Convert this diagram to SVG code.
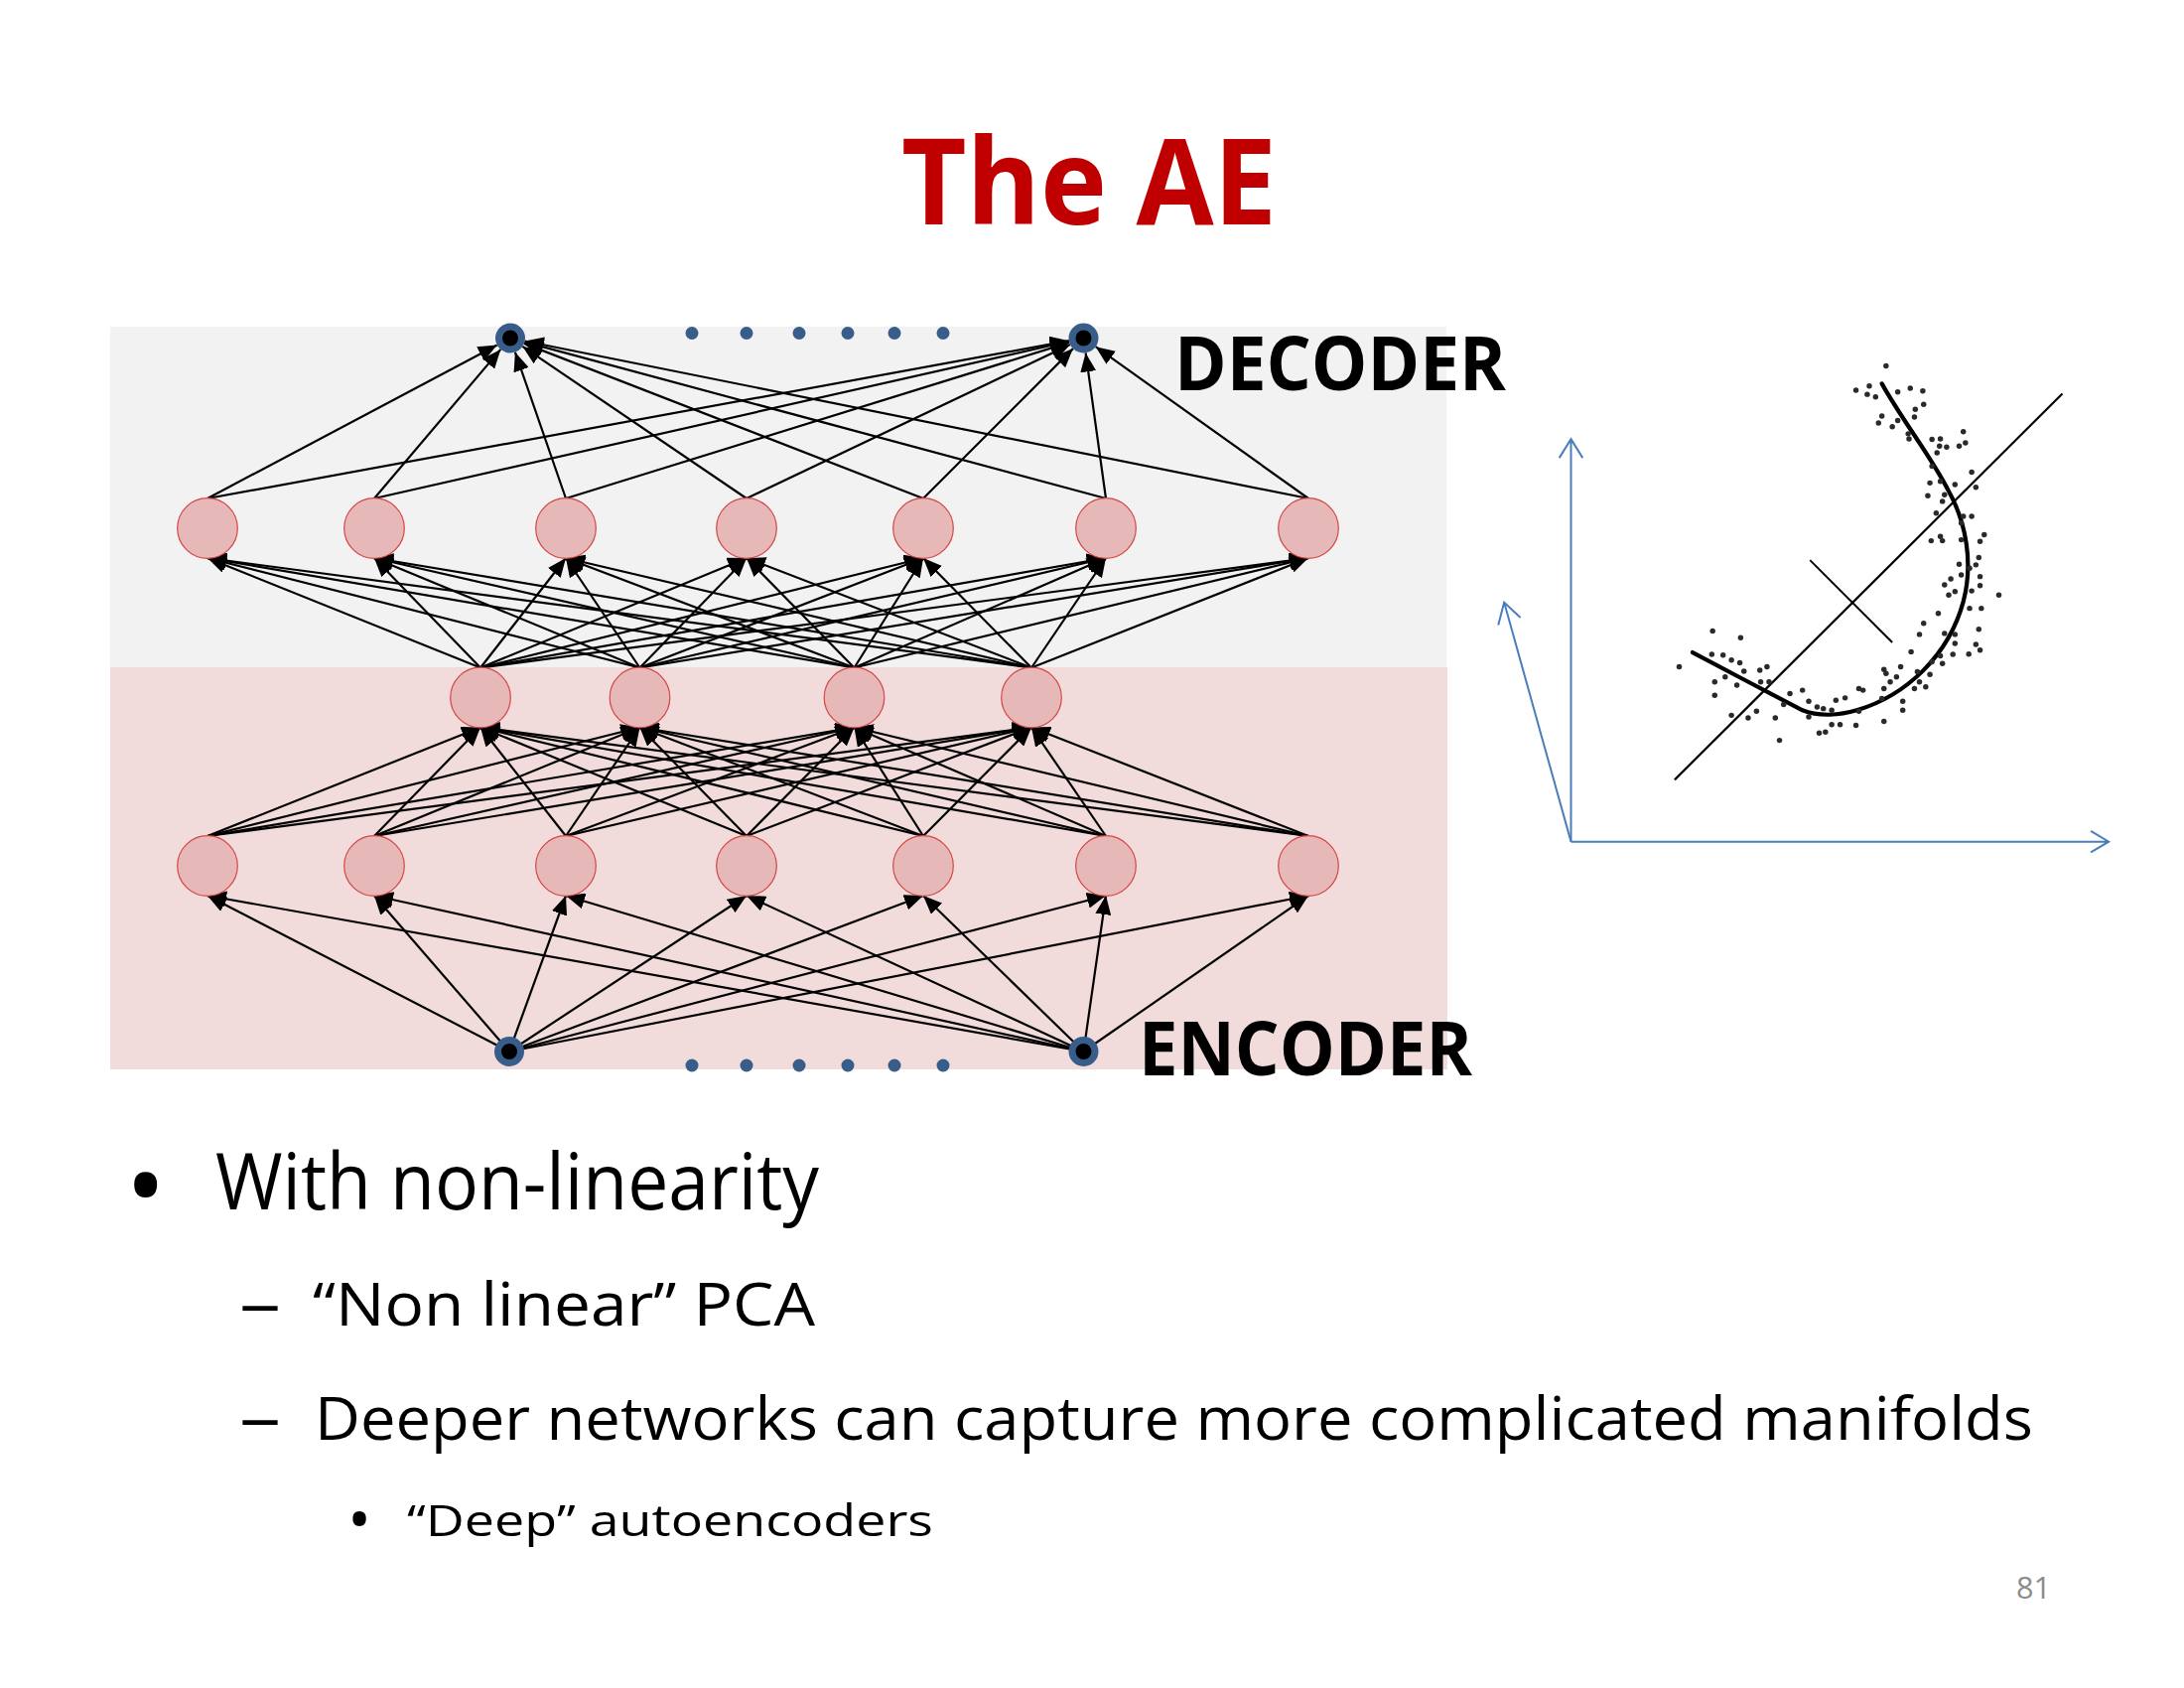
<svg xmlns="http://www.w3.org/2000/svg" width="2200" height="1700" viewBox="0 0 2200 1700">
<defs>
<style>
.band-d{fill:#F2F2F2}
.band-e{fill:#F2DCDB}
.h{fill:#E6B8B7;stroke:#D64545;stroke-width:1.2}
.io{fill:#000;stroke:#385D8A;stroke-width:7}
.bd{fill:#385D8A}
.c{stroke:#000;stroke-width:2.2;fill:none;marker-end:url(#ah)}
.ax{stroke:#4A7EBB;stroke-width:2;fill:none}
.pl{stroke:#000;fill:none}
.dot{fill:#2a2a2a}
.t{font-family:"Open Sans","Noto Sans","Liberation Sans",sans-serif}
.b{font-weight:bold}
</style>
<marker id="ah" markerUnits="userSpaceOnUse" markerWidth="20" markerHeight="16" refX="19" refY="8" orient="auto">
<path d="M0,0 L19,8 L0,16 z" fill="#000"/>
</marker>
</defs>
<rect width="2200" height="1700" fill="#fff"/>
<text class="t b" x="908" y="226" font-size="120" fill="#C00000" textLength="378" lengthAdjust="spacingAndGlyphs">The AE</text>
<rect class="band-d" x="111" y="329" width="1346" height="343"/>
<rect class="band-e" x="111" y="672" width="1347" height="405"/>
<g id="connectors">
<line class="c" x1="513" y1="1059" x2="209" y2="902"/>
<line class="c" x1="513" y1="1059" x2="377" y2="902"/>
<line class="c" x1="513" y1="1059" x2="570" y2="902"/>
<line class="c" x1="513" y1="1059" x2="752" y2="902"/>
<line class="c" x1="513" y1="1059" x2="930" y2="902"/>
<line class="c" x1="513" y1="1059" x2="1114" y2="902"/>
<line class="c" x1="513" y1="1059" x2="1318" y2="902"/>
<line class="c" x1="1091.5" y1="1059" x2="209" y2="902"/>
<line class="c" x1="1091.5" y1="1059" x2="377" y2="902"/>
<line class="c" x1="1091.5" y1="1059" x2="570" y2="902"/>
<line class="c" x1="1091.5" y1="1059" x2="752" y2="902"/>
<line class="c" x1="1091.5" y1="1059" x2="930" y2="902"/>
<line class="c" x1="1091.5" y1="1059" x2="1114" y2="902"/>
<line class="c" x1="1091.5" y1="1059" x2="1318" y2="902"/>
<line class="c" x1="209" y1="842" x2="484" y2="732.5"/>
<line class="c" x1="209" y1="842" x2="644.5" y2="732.5"/>
<line class="c" x1="209" y1="842" x2="860.5" y2="732.5"/>
<line class="c" x1="209" y1="842" x2="1039" y2="732.5"/>
<line class="c" x1="377" y1="842" x2="484" y2="732.5"/>
<line class="c" x1="377" y1="842" x2="644.5" y2="732.5"/>
<line class="c" x1="377" y1="842" x2="860.5" y2="732.5"/>
<line class="c" x1="377" y1="842" x2="1039" y2="732.5"/>
<line class="c" x1="570" y1="842" x2="484" y2="732.5"/>
<line class="c" x1="570" y1="842" x2="644.5" y2="732.5"/>
<line class="c" x1="570" y1="842" x2="860.5" y2="732.5"/>
<line class="c" x1="570" y1="842" x2="1039" y2="732.5"/>
<line class="c" x1="752" y1="842" x2="484" y2="732.5"/>
<line class="c" x1="752" y1="842" x2="644.5" y2="732.5"/>
<line class="c" x1="752" y1="842" x2="860.5" y2="732.5"/>
<line class="c" x1="752" y1="842" x2="1039" y2="732.5"/>
<line class="c" x1="930" y1="842" x2="484" y2="732.5"/>
<line class="c" x1="930" y1="842" x2="644.5" y2="732.5"/>
<line class="c" x1="930" y1="842" x2="860.5" y2="732.5"/>
<line class="c" x1="930" y1="842" x2="1039" y2="732.5"/>
<line class="c" x1="1114" y1="842" x2="484" y2="732.5"/>
<line class="c" x1="1114" y1="842" x2="644.5" y2="732.5"/>
<line class="c" x1="1114" y1="842" x2="860.5" y2="732.5"/>
<line class="c" x1="1114" y1="842" x2="1039" y2="732.5"/>
<line class="c" x1="1318" y1="842" x2="484" y2="732.5"/>
<line class="c" x1="1318" y1="842" x2="644.5" y2="732.5"/>
<line class="c" x1="1318" y1="842" x2="860.5" y2="732.5"/>
<line class="c" x1="1318" y1="842" x2="1039" y2="732.5"/>
<line class="c" x1="484" y1="672.5" x2="209" y2="562"/>
<line class="c" x1="484" y1="672.5" x2="377" y2="562"/>
<line class="c" x1="484" y1="672.5" x2="570" y2="562"/>
<line class="c" x1="484" y1="672.5" x2="752" y2="562"/>
<line class="c" x1="484" y1="672.5" x2="930" y2="562"/>
<line class="c" x1="484" y1="672.5" x2="1114" y2="562"/>
<line class="c" x1="484" y1="672.5" x2="1318" y2="562"/>
<line class="c" x1="644.5" y1="672.5" x2="209" y2="562"/>
<line class="c" x1="644.5" y1="672.5" x2="377" y2="562"/>
<line class="c" x1="644.5" y1="672.5" x2="570" y2="562"/>
<line class="c" x1="644.5" y1="672.5" x2="752" y2="562"/>
<line class="c" x1="644.5" y1="672.5" x2="930" y2="562"/>
<line class="c" x1="644.5" y1="672.5" x2="1114" y2="562"/>
<line class="c" x1="644.5" y1="672.5" x2="1318" y2="562"/>
<line class="c" x1="860.5" y1="672.5" x2="209" y2="562"/>
<line class="c" x1="860.5" y1="672.5" x2="377" y2="562"/>
<line class="c" x1="860.5" y1="672.5" x2="570" y2="562"/>
<line class="c" x1="860.5" y1="672.5" x2="752" y2="562"/>
<line class="c" x1="860.5" y1="672.5" x2="930" y2="562"/>
<line class="c" x1="860.5" y1="672.5" x2="1114" y2="562"/>
<line class="c" x1="860.5" y1="672.5" x2="1318" y2="562"/>
<line class="c" x1="1039" y1="672.5" x2="209" y2="562"/>
<line class="c" x1="1039" y1="672.5" x2="377" y2="562"/>
<line class="c" x1="1039" y1="672.5" x2="570" y2="562"/>
<line class="c" x1="1039" y1="672.5" x2="752" y2="562"/>
<line class="c" x1="1039" y1="672.5" x2="930" y2="562"/>
<line class="c" x1="1039" y1="672.5" x2="1114" y2="562"/>
<line class="c" x1="1039" y1="672.5" x2="1318" y2="562"/>
<line class="c" x1="209" y1="502" x2="500.7" y2="347.5"/>
<line class="c" x1="377" y1="502" x2="504.3" y2="351.9"/>
<line class="c" x1="570" y1="502" x2="518.9" y2="354.7"/>
<line class="c" x1="752" y1="502" x2="526.4" y2="348.9"/>
<line class="c" x1="930" y1="502" x2="528" y2="345.9"/>
<line class="c" x1="1114" y1="502" x2="528.5" y2="344.4"/>
<line class="c" x1="1318" y1="502" x2="528.7" y2="343.5"/>
<line class="c" x1="209" y1="502" x2="1076.8" y2="343.2"/>
<line class="c" x1="377" y1="502" x2="1076.9" y2="343.8"/>
<line class="c" x1="570" y1="502" x2="1077.2" y2="344.9"/>
<line class="c" x1="752" y1="502" x2="1078" y2="347"/>
<line class="c" x1="930" y1="502" x2="1080.9" y2="351.1"/>
<line class="c" x1="1114" y1="502" x2="1093.6" y2="355.4"/>
<line class="c" x1="1318" y1="502" x2="1103.7" y2="349.2"/>
</g>
<g id="output-layer">
<circle id="out1" class="io" cx="514" cy="340.5" r="11.5"/>
<circle id="out2" class="io" cx="1091.5" cy="340.5" r="11.5"/>
<g id="out-dots">
<circle class="bd" cx="697" cy="335.5" r="6.5"/>
<circle class="bd" cx="752" cy="335.5" r="6.5"/>
<circle class="bd" cx="805" cy="335.5" r="6.5"/>
<circle class="bd" cx="854" cy="335.5" r="6.5"/>
<circle class="bd" cx="901" cy="335.5" r="6.5"/>
<circle class="bd" cx="950" cy="335.5" r="6.5"/>
</g>
</g>
<g id="decoder-hidden">
<circle id="d1" class="h" cx="209" cy="532" r="30.3"/>
<circle id="d2" class="h" cx="377" cy="532" r="30.3"/>
<circle id="d3" class="h" cx="570" cy="532" r="30.3"/>
<circle id="d4" class="h" cx="752" cy="532" r="30.3"/>
<circle id="d5" class="h" cx="930" cy="532" r="30.3"/>
<circle id="d6" class="h" cx="1114" cy="532" r="30.3"/>
<circle id="d7" class="h" cx="1318" cy="532" r="30.3"/>
</g>
<g id="code-layer">
<circle id="m1" class="h" cx="484" cy="702.5" r="30.3"/>
<circle id="m2" class="h" cx="644.5" cy="702.5" r="30.3"/>
<circle id="m3" class="h" cx="860.5" cy="702.5" r="30.3"/>
<circle id="m4" class="h" cx="1039" cy="702.5" r="30.3"/>
</g>
<g id="encoder-hidden">
<circle id="e1" class="h" cx="209" cy="872" r="30.3"/>
<circle id="e2" class="h" cx="377" cy="872" r="30.3"/>
<circle id="e3" class="h" cx="570" cy="872" r="30.3"/>
<circle id="e4" class="h" cx="752" cy="872" r="30.3"/>
<circle id="e5" class="h" cx="930" cy="872" r="30.3"/>
<circle id="e6" class="h" cx="1114" cy="872" r="30.3"/>
<circle id="e7" class="h" cx="1318" cy="872" r="30.3"/>
</g>
<g id="input-layer">
<circle id="in1" class="io" cx="513" cy="1059" r="11.5"/>
<circle id="in2" class="io" cx="1091.5" cy="1059" r="11.5"/>
<g id="in-dots">
<circle class="bd" cx="697" cy="1073" r="6.5"/>
<circle class="bd" cx="752" cy="1073" r="6.5"/>
<circle class="bd" cx="805" cy="1073" r="6.5"/>
<circle class="bd" cx="854" cy="1073" r="6.5"/>
<circle class="bd" cx="901" cy="1073" r="6.5"/>
<circle class="bd" cx="950" cy="1073" r="6.5"/>
</g>
</g>
<text id="decoder-label" class="t b" x="1183" y="393" font-size="76" fill="#000" textLength="334" lengthAdjust="spacingAndGlyphs">DECODER</text>
<text id="encoder-label" class="t b" x="1147" y="1083" font-size="76" fill="#000" textLength="336" lengthAdjust="spacingAndGlyphs">ENCODER</text>
<g id="manifold-plot" transform="translate(1500,350) scale(0.4209,0.3367)">
<path class="ax" vector-effect="non-scaling-stroke" d="M196,1478 L196,274 M168,330 L196,274 L224,330"/>
<path class="ax" vector-effect="non-scaling-stroke" d="M196,1478 L1483,1478 M1440,1446 L1483,1478 L1440,1510"/>
<path class="ax" vector-effect="non-scaling-stroke" d="M196,1478 L36,762 M22,830 L36,762 L75,808"/>
<path class="pl" vector-effect="non-scaling-stroke" stroke-width="2.2" d="M444,1293 L1372,138"/>
<path class="pl" vector-effect="non-scaling-stroke" stroke-width="2" d="M768,636 L965,882"/>
<path class="pl" vector-effect="non-scaling-stroke" stroke-width="4.2" stroke-linecap="round" d="M487,912 C560,960 680,1040 750,1085 C790,1105 840,1100 880,1085 C1000,1040 1100,920 1135,760 C1160,640 1140,520 1100,430 C1060,330 990,220 940,108"/>
<g class="dot">
<ellipse cx="950" cy="55" rx="6.5" ry="8.1"/><ellipse cx="878" cy="128" rx="6.5" ry="8.1"/><ellipse cx="910" cy="115" rx="6.5" ry="8.1"/><ellipse cx="905" cy="140" rx="6.5" ry="8.1"/><ellipse cx="925" cy="148" rx="6.5" ry="8.1"/><ellipse cx="978" cy="133" rx="6.5" ry="8.1"/><ellipse cx="1008" cy="122" rx="6.5" ry="8.1"/><ellipse cx="1038" cy="130" rx="6.5" ry="8.1"/><ellipse cx="1040" cy="170" rx="6.5" ry="8.1"/><ellipse cx="1020" cy="185" rx="6.5" ry="8.1"/>
<ellipse cx="1018" cy="208" rx="6.5" ry="8.1"/><ellipse cx="940" cy="205" rx="6.5" ry="8.1"/><ellipse cx="932" cy="226" rx="6.5" ry="8.1"/><ellipse cx="965" cy="237" rx="6.5" ry="8.1"/><ellipse cx="978" cy="218" rx="6.5" ry="8.1"/><ellipse cx="1003" cy="258" rx="6.5" ry="8.1"/><ellipse cx="1005" cy="273" rx="6.5" ry="8.1"/><ellipse cx="1060" cy="275" rx="6.5" ry="8.1"/><ellipse cx="1080" cy="273" rx="6.5" ry="8.1"/><ellipse cx="1078" cy="295" rx="6.5" ry="8.1"/>
<ellipse cx="1095" cy="298" rx="6.5" ry="8.1"/><ellipse cx="1125" cy="295" rx="6.5" ry="8.1"/><ellipse cx="1140" cy="285" rx="6.5" ry="8.1"/><ellipse cx="1135" cy="252" rx="6.5" ry="8.1"/><ellipse cx="1072" cy="315" rx="6.5" ry="8.1"/><ellipse cx="1060" cy="355" rx="6.5" ry="8.1"/><ellipse cx="1155" cy="373" rx="6.5" ry="8.1"/><ellipse cx="1055" cy="405" rx="6.5" ry="8.1"/><ellipse cx="1080" cy="400" rx="6.5" ry="8.1"/><ellipse cx="1115" cy="410" rx="6.5" ry="8.1"/>
<ellipse cx="1165" cy="418" rx="6.5" ry="8.1"/><ellipse cx="1050" cy="443" rx="6.5" ry="8.1"/><ellipse cx="1090" cy="440" rx="6.5" ry="8.1"/><ellipse cx="1085" cy="460" rx="6.5" ry="8.1"/><ellipse cx="1070" cy="495" rx="6.5" ry="8.1"/><ellipse cx="1135" cy="505" rx="6.5" ry="8.1"/><ellipse cx="1155" cy="505" rx="6.5" ry="8.1"/><ellipse cx="1130" cy="525" rx="6.5" ry="8.1"/><ellipse cx="1185" cy="560" rx="6.5" ry="8.1"/><ellipse cx="1058" cy="578" rx="6.5" ry="8.1"/>
<ellipse cx="1080" cy="565" rx="6.5" ry="8.1"/><ellipse cx="1085" cy="578" rx="6.5" ry="8.1"/><ellipse cx="1130" cy="575" rx="6.5" ry="8.1"/><ellipse cx="1175" cy="580" rx="6.5" ry="8.1"/><ellipse cx="1172" cy="628" rx="6.5" ry="8.1"/><ellipse cx="1125" cy="648" rx="6.5" ry="8.1"/><ellipse cx="1165" cy="650" rx="6.5" ry="8.1"/><ellipse cx="1150" cy="660" rx="6.5" ry="8.1"/><ellipse cx="1175" cy="685" rx="6.5" ry="8.1"/><ellipse cx="1130" cy="680" rx="6.5" ry="8.1"/>
<ellipse cx="1105" cy="692" rx="6.5" ry="8.1"/><ellipse cx="1090" cy="710" rx="6.5" ry="8.1"/><ellipse cx="1115" cy="730" rx="6.5" ry="8.1"/><ellipse cx="1175" cy="712" rx="6.5" ry="8.1"/><ellipse cx="1100" cy="740" rx="6.5" ry="8.1"/><ellipse cx="1155" cy="728" rx="6.5" ry="8.1"/><ellipse cx="1220" cy="740" rx="6.5" ry="8.1"/><ellipse cx="1150" cy="780" rx="6.5" ry="8.1"/><ellipse cx="1178" cy="780" rx="6.5" ry="8.1"/><ellipse cx="1075" cy="795" rx="6.5" ry="8.1"/>
<ellipse cx="1040" cy="825" rx="6.5" ry="8.1"/><ellipse cx="1030" cy="858" rx="6.5" ry="8.1"/><ellipse cx="1090" cy="855" rx="6.5" ry="8.1"/><ellipse cx="1115" cy="858" rx="6.5" ry="8.1"/><ellipse cx="1172" cy="843" rx="6.5" ry="8.1"/><ellipse cx="1115" cy="885" rx="6.5" ry="8.1"/><ellipse cx="1165" cy="888" rx="6.5" ry="8.1"/><ellipse cx="1175" cy="905" rx="6.5" ry="8.1"/><ellipse cx="1148" cy="917" rx="6.5" ry="8.1"/><ellipse cx="1110" cy="918" rx="6.5" ry="8.1"/>
<ellipse cx="1080" cy="922" rx="6.5" ry="8.1"/><ellipse cx="1085" cy="945" rx="6.5" ry="8.1"/><ellipse cx="1010" cy="910" rx="6.5" ry="8.1"/><ellipse cx="1060" cy="940" rx="6.5" ry="8.1"/><ellipse cx="985" cy="955" rx="6.5" ry="8.1"/><ellipse cx="945" cy="963" rx="6.5" ry="8.1"/><ellipse cx="950" cy="975" rx="6.5" ry="8.1"/><ellipse cx="1025" cy="970" rx="6.5" ry="8.1"/><ellipse cx="1055" cy="978" rx="6.5" ry="8.1"/><ellipse cx="975" cy="985" rx="6.5" ry="8.1"/>
<ellipse cx="1030" cy="1000" rx="6.5" ry="8.1"/><ellipse cx="1018" cy="1020" rx="6.5" ry="8.1"/><ellipse cx="1045" cy="1015" rx="6.5" ry="8.1"/><ellipse cx="960" cy="1000" rx="6.5" ry="8.1"/><ellipse cx="945" cy="1020" rx="6.5" ry="8.1"/><ellipse cx="990" cy="1058" rx="6.5" ry="8.1"/><ellipse cx="990" cy="1085" rx="6.5" ry="8.1"/><ellipse cx="940" cy="1050" rx="6.5" ry="8.1"/><ellipse cx="945" cy="1118" rx="6.5" ry="8.1"/><ellipse cx="885" cy="1020" rx="6.5" ry="8.1"/>
<ellipse cx="895" cy="1025" rx="6.5" ry="8.1"/><ellipse cx="852" cy="1048" rx="6.5" ry="8.1"/><ellipse cx="830" cy="1055" rx="6.5" ry="8.1"/><ellipse cx="800" cy="1080" rx="6.5" ry="8.1"/><ellipse cx="820" cy="1085" rx="6.5" ry="8.1"/><ellipse cx="785" cy="1075" rx="6.5" ry="8.1"/><ellipse cx="765" cy="1058" rx="6.5" ry="8.1"/><ellipse cx="765" cy="1105" rx="6.5" ry="8.1"/><ellipse cx="750" cy="1025" rx="6.5" ry="8.1"/><ellipse cx="720" cy="1035" rx="6.5" ry="8.1"/>
<ellipse cx="705" cy="1068" rx="6.5" ry="8.1"/><ellipse cx="685" cy="1108" rx="6.5" ry="8.1"/><ellipse cx="640" cy="1088" rx="6.5" ry="8.1"/><ellipse cx="620" cy="1108" rx="6.5" ry="8.1"/><ellipse cx="580" cy="1100" rx="6.5" ry="8.1"/><ellipse cx="540" cy="1040" rx="6.5" ry="8.1"/><ellipse cx="540" cy="1000" rx="6.5" ry="8.1"/><ellipse cx="593" cy="1010" rx="6.5" ry="8.1"/><ellipse cx="565" cy="985" rx="6.5" ry="8.1"/><ellipse cx="665" cy="955" rx="6.5" ry="8.1"/>
<ellipse cx="648" cy="965" rx="6.5" ry="8.1"/><ellipse cx="610" cy="968" rx="6.5" ry="8.1"/><ellipse cx="600" cy="943" rx="6.5" ry="8.1"/><ellipse cx="580" cy="935" rx="6.5" ry="8.1"/><ellipse cx="560" cy="920" rx="6.5" ry="8.1"/><ellipse cx="533" cy="918" rx="6.5" ry="8.1"/><ellipse cx="535" cy="848" rx="6.5" ry="8.1"/><ellipse cx="602" cy="868" rx="6.5" ry="8.1"/><ellipse cx="455" cy="955" rx="6.5" ry="8.1"/><ellipse cx="650" cy="1000" rx="6.5" ry="8.1"/>
<ellipse cx="670" cy="1000" rx="6.5" ry="8.1"/><ellipse cx="820" cy="1128" rx="6.5" ry="8.1"/><ellipse cx="840" cy="1128" rx="6.5" ry="8.1"/><ellipse cx="878" cy="1130" rx="6.5" ry="8.1"/><ellipse cx="805" cy="1150" rx="6.5" ry="8.1"/><ellipse cx="790" cy="1153" rx="6.5" ry="8.1"/><ellipse cx="695" cy="1175" rx="6.5" ry="8.1"/><ellipse cx="885" cy="1088" rx="6.5" ry="8.1"/>
</g>
</g>
<g id="body-text" class="t" fill="#000">
<text x="126" y="1233" font-size="110">•</text>
<text x="217" y="1218" font-size="78" textLength="608" lengthAdjust="spacingAndGlyphs">With non-linearity</text>
<text x="241" y="1335" font-size="66" textLength="42" lengthAdjust="spacingAndGlyphs">–</text>
<text x="315" y="1335" font-size="61" textLength="506" lengthAdjust="spacingAndGlyphs">“Non linear” PCA</text>
<text x="241" y="1450" font-size="66" textLength="42" lengthAdjust="spacingAndGlyphs">–</text>
<text x="317" y="1450" font-size="61" textLength="1731" lengthAdjust="spacingAndGlyphs">Deeper networks can capture more complicated manifolds</text>
<text x="350" y="1553" font-size="64">•</text>
<text x="410" y="1547" font-size="44.5" textLength="530" lengthAdjust="spacingAndGlyphs">“Deep” autoencoders</text>
</g>
<text id="page-number" class="t" x="2031" y="1610" font-size="31" fill="#8C8C8C" textLength="35" lengthAdjust="spacingAndGlyphs">81</text>
</svg>
